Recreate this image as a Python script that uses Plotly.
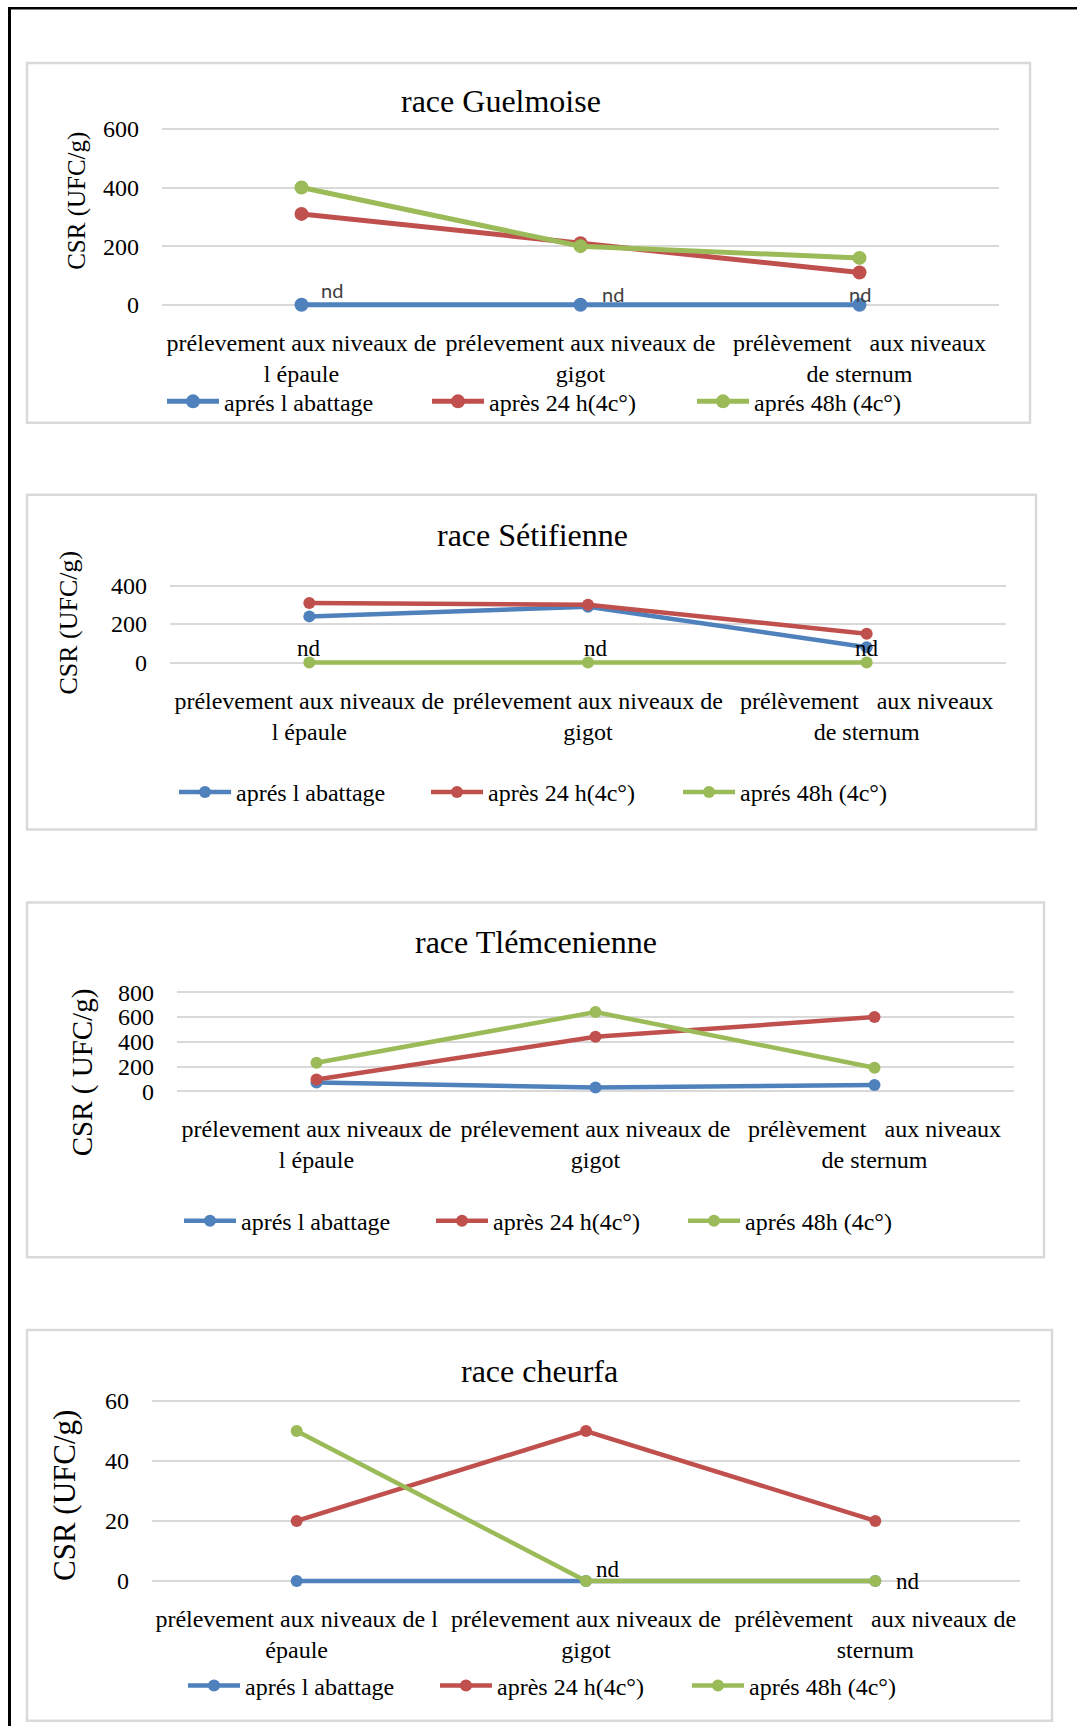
import plotly.graph_objects as go

W, H = 1077, 1733

# ---------------- data ----------------
categories = ["épaule", "gigot", "sternum"]
series_names = ["aprés l abattage", "après 24 h(4c°)", "aprés 48h (4c°)"]

guelmoise_abattage = [0, 0, 0]
guelmoise_24h = [310, 210, 110]
guelmoise_48h = [400, 200, 160]

setif_abattage = [240, 290, 80]
setif_24h = [310, 300, 150]
setif_48h = [0, 0, 0]

tlem_abattage = [70, 30, 50]
tlem_24h = [95, 440, 600]
tlem_48h = [230, 640, 190]

cheurfa_abattage = [0, 0, 0]
cheurfa_24h = [20, 50, 20]
cheurfa_48h = [50, 0, 0]

ticks_a = ["prélevement aux niveaux de<br>l épaule",
           "prélevement aux niveaux de<br>gigot",
           "prélèvement \u00a0 aux niveaux<br>de sternum"]
ticks_b = ["prélevement aux niveaux de l<br>épaule",
           "prélevement aux niveaux de<br>gigot",
           "prélèvement \u00a0 aux niveaux de<br>sternum"]

titles = ["race Guelmoise", "race Sétifienne", "race Tlémcenienne", "race cheurfa"]
ytitles = ["CSR (UFC/g)", "CSR (UFC/g)", "CSR ( UFC/g)", "CSR (UFC/g)"]
yticks = [[0, 200, 400, 600], [0, 200, 400], [0, 200, 400, 600, 800], [0, 20, 40, 60]]

colors = ["#4F81BD", "#C0504D", "#9BBB59"]
SERIF = "Liberation Serif"

# ---------------- layout geometry (window pixels) ----------------
panels = [
    dict(box=(27, 63, 1030, 423), plot=(162, 129, 999, 305), ymax=600,
         title=(501, 101), ytitle=(77, 201, 25), leg=(162, 402, 198), marker=14, lw=5,
         data=[guelmoise_abattage, guelmoise_24h, guelmoise_48h], ticks=ticks_a),
    dict(box=(27, 495, 1036, 830), plot=(170, 586, 1006, 663), ymax=400,
         title=(532, 535), ytitle=(69, 623, 26), leg=(174, 793, 185), marker=12, lw=4.5,
         data=[setif_abattage, setif_24h, setif_48h], ticks=ticks_a),
    dict(box=(27, 903, 1044, 1258), plot=(177, 993, 1014, 1092), ymax=800,
         title=(536, 943), ytitle=(82, 1073, 29), leg=(179, 1222, 185), marker=12, lw=4.5,
         data=[tlem_abattage, tlem_24h, tlem_48h], ticks=ticks_a),
    dict(box=(27, 1331, 1052, 1722), plot=(152, 1402, 1020, 1582), ymax=60,
         title=(539, 1372), ytitle=(65, 1497, 31), leg=(183, 1687, 185), marker=12, lw=4.5,
         data=[cheurfa_abattage, cheurfa_24h, cheurfa_48h], ticks=ticks_b),
]

PAD = 6  # extra pixels above/below the value range so lines are not clipped
# measured vertical mapping of the capture: shown_y = 0.9926 * page_y + 7
VS, VOFF = 0.9926, 7.0


def px(x):
    return x / W


def py(y):
    return 1 - ((y - VOFF) / VS) / H


fig = go.Figure()
shapes = []
annotations = []

for i, p in enumerate(panels):
    n = "" if i == 0 else str(i + 1)
    xa, ya = "x" + n, "y" + n
    leg = "legend" + n
    for s in range(3):
        fig.add_trace(go.Scatter(
            x=categories, y=p["data"][s], name=series_names[s],
            mode="lines+markers", xaxis=xa, yaxis=ya, legend=leg,
            line=dict(color=colors[s], width=p["lw"]),
            marker=dict(color=colors[s], size=p["marker"], symbol="circle"),
            cliponaxis=False, showlegend=True, hoverinfo="skip"))

    x0, y0, x1, y1 = p["plot"]
    unit = p["ymax"] / (y1 - y0)  # data units per pixel
    fig.update_layout(**{
        "xaxis" + n: dict(domain=[px(x0), px(x1)], anchor=ya, type="category",
                          categoryarray=categories, range=[-0.5, 2.5],
                          tickvals=categories, ticktext=p["ticks"],
                          showgrid=False, zeroline=False, showline=False, ticks="",
                          ticklabelstandoff=21 - PAD,
                          tickfont=dict(family=SERIF, size=24, color="#000")),
        "yaxis" + n: dict(domain=[py(y1 + PAD), py(y0 - PAD)], anchor=xa,
                          range=[-PAD * unit, p["ymax"] + PAD * unit],
                          tickvals=yticks[i], showgrid=True, gridcolor="#D9D9D9",
                          gridwidth=2, zeroline=False, showline=False, ticks="",
                          ticklabelstandoff=22,
                          tickfont=dict(family=SERIF, size=24, color="#000")),
        leg: dict(orientation="h", x=px(p["leg"][0]), y=py(p["leg"][1]),
                  xanchor="left", yanchor="middle", bgcolor="rgba(0,0,0,0)",
                  entrywidth=p["leg"][2], entrywidthmode="pixels", itemwidth=52,
                  font=dict(family=SERIF, size=24, color="#000")),
    })

    bx0, by0, bx1, by1 = p["box"]
    shapes.append(dict(type="rect", xref="paper", yref="paper",
                       x0=px(bx0), x1=px(bx1), y0=py(by1), y1=py(by0),
                       line=dict(color="#D9D9D9", width=2.5), fillcolor="rgba(0,0,0,0)"))
    annotations.append(dict(text=titles[i], xref="paper", yref="paper",
                            x=px(p["title"][0]), y=py(p["title"][1]),
                            xanchor="center", yanchor="middle", showarrow=False,
                            font=dict(family=SERIF, size=32, color="#000")))
    annotations.append(dict(text=ytitles[i], xref="paper", yref="paper",
                            x=px(p["ytitle"][0]), y=py(p["ytitle"][1]), textangle=-90,
                            xanchor="center", yanchor="middle", showarrow=False,
                            font=dict(family=SERIF, size=p["ytitle"][2], color="#000")))

# "nd" labels
for k, c in enumerate(categories):
    annotations.append(dict(text="nd", xref="x", yref="y", x=c, y=guelmoise_abattage[k],
                            xshift=[30, 32, 0][k], yshift=[15, 11, 11][k], showarrow=False,
                            font=dict(family="Lato", size=20, color="#404040")))
    annotations.append(dict(text="nd", xref="x2", yref="y2", x=c, y=setif_48h[k],
                            xshift=[0, 8, 0][k], yshift=14, showarrow=False,
                            font=dict(family=SERIF, size=23, color="#000")))
annotations.append(dict(text="nd", xref="x4", yref="y4", x=categories[1], y=cheurfa_48h[1],
                        xshift=22, yshift=11, showarrow=False,
                        font=dict(family=SERIF, size=23, color="#000")))
annotations.append(dict(text="nd", xref="x4", yref="y4", x=categories[2], y=cheurfa_48h[2],
                        xshift=33, yshift=-1, showarrow=False,
                        font=dict(family=SERIF, size=23, color="#000")))

# outer black frame (left and top)
shapes.append(dict(type="line", xref="paper", yref="paper", x0=px(9.5), x1=px(9.5),
                   y0=0, y1=py(8.3), line=dict(color="#000", width=3)))
shapes.append(dict(type="line", xref="paper", yref="paper", x0=px(8), x1=1,
                   y0=py(8.3), y1=py(8.3), line=dict(color="#000", width=2.5)))

fig.update_layout(width=W, height=H, autosize=False,
                  margin=dict(l=0, r=0, t=0, b=0),
                  paper_bgcolor="white", plot_bgcolor="white",
                  shapes=shapes, annotations=annotations)

# pin the figure to the top-left corner of the window (no page margin/scroll)
fig.write_html("out.html",
               config={"displayModeBar": False},
               post_script="document.body.style.margin='0';"
                           "document.body.style.overflow='hidden';"
                           "var d=document.getElementById('{plot_id}');"
                           "d.style.position='fixed';d.style.left='0px';d.style.top='0px';")
